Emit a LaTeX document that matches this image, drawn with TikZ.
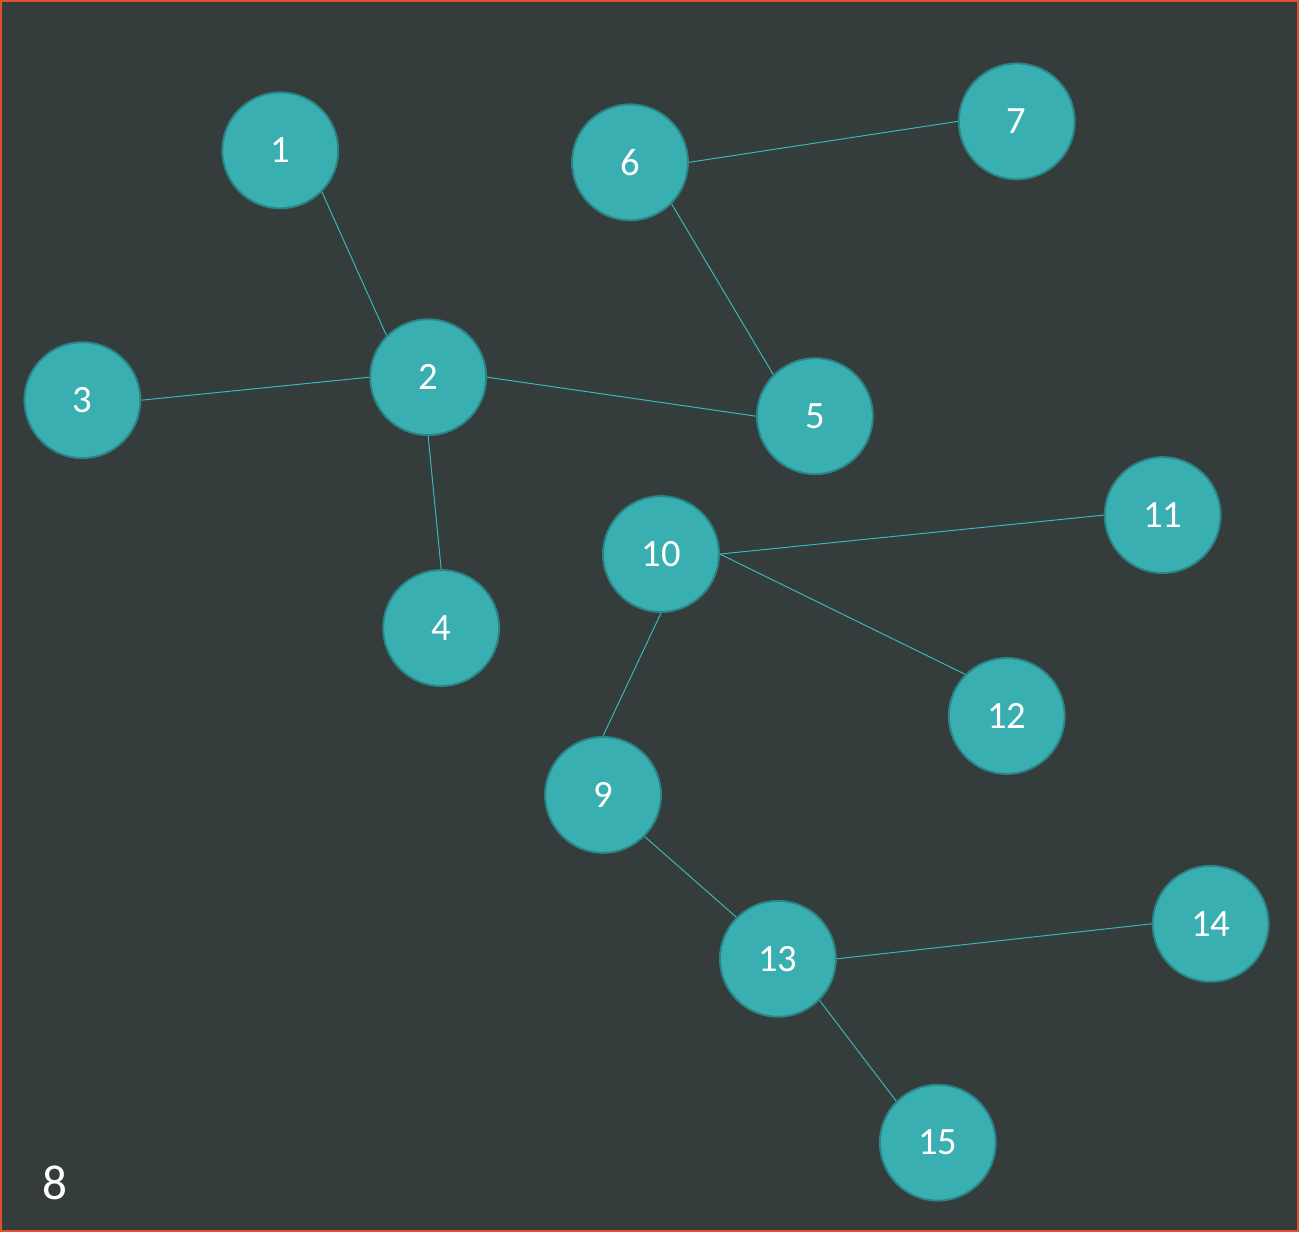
\documentclass[tikz,border=0pt]{standalone}
\usepackage{fontspec}
\setmainfont{Carlito}
\usepackage{tikz}
\definecolor{bgdark}{HTML}{353D3C}
\definecolor{tealfill}{HTML}{3AAFB1}
\definecolor{tealedge}{HTML}{2A8587}
\definecolor{tealline}{HTML}{3BB8BB}
\definecolor{frameorange}{HTML}{E0522D}
\tikzset{
  vertex/.style={circle, draw=tealedge, line width=1.1pt, fill=tealfill,
    minimum size=2.32cm, inner sep=0pt, text=white, font=\fontsize{22}{26}\selectfont},
  link/.style={draw=tealline, line width=0.55pt}
}

\begin{document}
\begin{tikzpicture}[x=0.02cm, y=-0.02cm]
            % Background and frame
            \fill[bgdark] (0,0) rectangle (1299,1232);
            \draw[frameorange, line width=1.2pt] (0.6,0.6) rectangle (1298.4,1231.4);
            \useasboundingbox (0,0) rectangle (1299,1232);

            % Vertices
            \node[vertex] (v1) at (280,150) {1};
            \node[vertex] (v2) at (428,377) {2};
            \node[vertex] (v3) at (82,400) {3};
            \node[vertex] (v4) at (441,628) {4};
            \node[vertex] (v5) at (815,416) {5};
            \node[vertex] (v6) at (630,162) {6};
            \node[vertex] (v7) at (1017,121) {7};
            \node[vertex] (v9) at (603,795) {9};
            \node[vertex] (v10) at (661,554) {10};
            \node[vertex] (v11) at (1163,515) {11};
            \node[vertex] (v12) at (1007,716) {12};
            \node[vertex] (v13) at (778,959) {13};
            \node[vertex] (v14) at (1211,924) {14};
            \node[vertex] (v15) at (938,1143) {15};

            % Edges between connection points
            \draw[link] (v1.south east) -- (v2.north west);
            \draw[link] (v3.east) -- (v2.west);
            \draw[link] (v2.east) -- (v5.west);
            \draw[link] (v2.south) -- (v4.north);
            \draw[link] (v6.south east) -- (v5.north west);
            \draw[link] (v6.east) -- (v7.west);
            \draw[link] (v10.east) -- (v11.west);
            \draw[link] (v10.east) -- (v12.north west);
            \draw[link] (v10.south) -- (v9.north);
            \draw[link] (v9.south east) -- (v13.north west);
            \draw[link] (v13.east) -- (v14.west);
            \draw[link] (v13.south east) -- (v15.north west);

            % Corner label
            \node[text=white, font=\fontsize{28}{33}\selectfont] (lbl8) at (55,1183) {8};
          \end{tikzpicture}
\end{document}
